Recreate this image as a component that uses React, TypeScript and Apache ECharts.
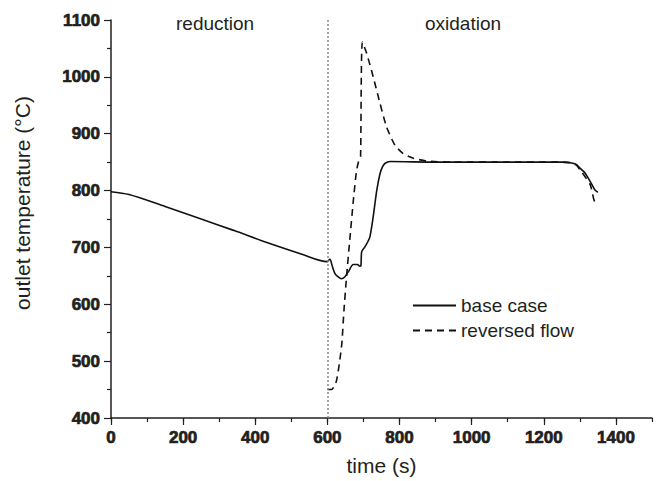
import React, { useEffect, useRef } from "react";
import * as echarts from "echarts";

const baseT = [0, 50, 150, 250, 340, 430, 525, 600, 603, 607, 614, 621, 630, 639, 648, 658, 672, 683, 690, 693, 695, 704, 712, 718, 727, 737, 746, 753, 760, 774, 900, 1100, 1250, 1273, 1290, 1301, 1313, 1324, 1334, 1342, 1350];
const baseV = [798, 793, 772, 750, 730, 709, 689, 675, 677, 679, 666, 654, 648, 645, 648, 657, 670, 670, 667, 668, 692, 701, 710, 719, 754, 801, 830, 842, 848, 851, 850, 850, 850, 849, 846, 839, 832, 821, 810, 801, 797];

const revT = [600, 612, 618, 625, 633, 640, 646, 653, 662, 672, 681, 688, 692, 694, 697, 709, 727, 746, 764, 787, 810, 838, 875, 950, 1100, 1250, 1275, 1290, 1301, 1315, 1329, 1338, 1341];
const revV = [450, 450, 455, 465, 495, 531, 590, 648, 713, 783, 836, 855, 860, 1000, 1061, 1041, 1000, 953, 912, 880, 865, 857, 852, 850, 850, 850, 849, 845, 836, 824, 810, 786, 780];

const xMajorTicks = [0, 200, 400, 600, 800, 1000, 1200, 1400];
const yTicks = [400, 500, 600, 700, 800, 900, 1000, 1100];
const phaseBoundary = 600;
const phaseLabels = ["reduction", "oxidation"];
const seriesNames = ["base case", "reversed flow"];

const FONT = "Arial, 'Liberation Sans', sans-serif";
const INK = "#231f20";

const tickLabelStyle = {
  fontSize: 17,
  fontWeight: "bold",
  color: INK,
  fontFamily: FONT,
  textBorderColor: INK,
  textBorderWidth: 0.7,
};

export default function App() {
  const ref = useRef<HTMLDivElement>(null);
  useEffect(() => {
    if (!ref.current) return;
    const chart = echarts.init(ref.current, null, { renderer: "svg" });
    const baseData = baseT.map((t, i) => [t, baseV[i]]);
    const revData = revT.map((t, i) => [t, revV[i]]);
    const grid = { left: 111, right: 7, top: 20, bottom: 63 };
    chart.setOption({
      animation: false,
      backgroundColor: "#fff",
      textStyle: { fontFamily: FONT },
      grid,
      xAxis: [
        {
          type: "value",
          min: 0,
          max: 1500,
          interval: 100,
          name: "time (s)",
          nameLocation: "middle",
          nameGap: 37,
          nameTextStyle: { fontSize: 21, color: INK, fontFamily: FONT },
          axisLine: { show: true, lineStyle: { color: INK, width: 1.5 } },
          axisTick: { show: true, length: 4, lineStyle: { color: INK, width: 1.2 } },
          axisLabel: {
            formatter: (v: number) => (xMajorTicks.includes(v) ? String(v) : ""),
            ...tickLabelStyle,
            margin: 11,
          },
          splitLine: { show: false },
        },
        {
          type: "value",
          min: 0,
          max: 1500,
          position: "bottom",
          axisLine: { show: false },
          axisTick: { show: true, length: 7, customValues: xMajorTicks, lineStyle: { color: INK, width: 1.2 } },
          axisLabel: { show: false },
          splitLine: { show: false },
        },
      ],
      yAxis: {
        type: "value",
        min: 400,
        max: 1100,
        interval: 100,
        name: "outlet temperature (°C)",
        nameLocation: "middle",
        nameGap: 78,
        nameTextStyle: { fontSize: 21, color: INK, fontFamily: FONT, padding: [0, 0, 0, 32] },
        axisLine: { show: true, lineStyle: { color: INK, width: 1.5 } },
        axisTick: { show: true, length: 7, lineStyle: { color: INK, width: 1.2 } },
        minorTick: { show: true, splitNumber: 2, length: 4, lineStyle: { color: INK, width: 1.2 } },
        axisLabel: {
          formatter: (v: number) => (yTicks.includes(v) ? String(v) : ""),
          ...tickLabelStyle,
          margin: 11,
        },
        splitLine: { show: false },
      },
      legend: {
        orient: "vertical",
        left: 407,
        top: 291,
        itemWidth: 43,
        itemHeight: 14,
        itemGap: 6,
        data: seriesNames,
        itemStyle: { opacity: 0 },
        textStyle: { fontSize: 19, color: INK, fontFamily: FONT },
      },
      series: [
        {
          name: seriesNames[0],
          type: "line",
          data: baseData,
          showSymbol: false,
          symbol: "none",
          smooth: 0.3,
          lineStyle: { color: "#111", width: 1.6, type: "solid" },
          itemStyle: { color: "#111" },
          markLine: {
            silent: true,
            symbol: ["none", "none"],
            label: { show: false },
            lineStyle: { color: "#888", width: 1.5, type: [2, 2] },
            data: [{ xAxis: phaseBoundary }],
          },
          z: 3,
        },
        {
          name: seriesNames[1],
          type: "line",
          data: revData,
          showSymbol: false,
          symbol: "none",
          smooth: 0.2,
          lineStyle: { color: "#111", width: 1.6, type: [7, 5] },
          itemStyle: { color: "#111" },
          z: 2,
        },
      ],
      graphic: [
        {
          type: "text",
          left: 176,
          top: 14,
          style: { text: phaseLabels[0], fontSize: 19, fill: INK, fontFamily: FONT },
        },
        {
          type: "text",
          left: 425,
          top: 14,
          style: { text: phaseLabels[1], fontSize: 19, fill: INK, fontFamily: FONT },
        },
      ],
    });
    return () => chart.dispose();
  }, []);
  return (
    <div
      ref={ref}
      style={{ position: "fixed", left: 0, top: 0, width: 659, height: 481, background: "#fff" }}
    />
  );
}
